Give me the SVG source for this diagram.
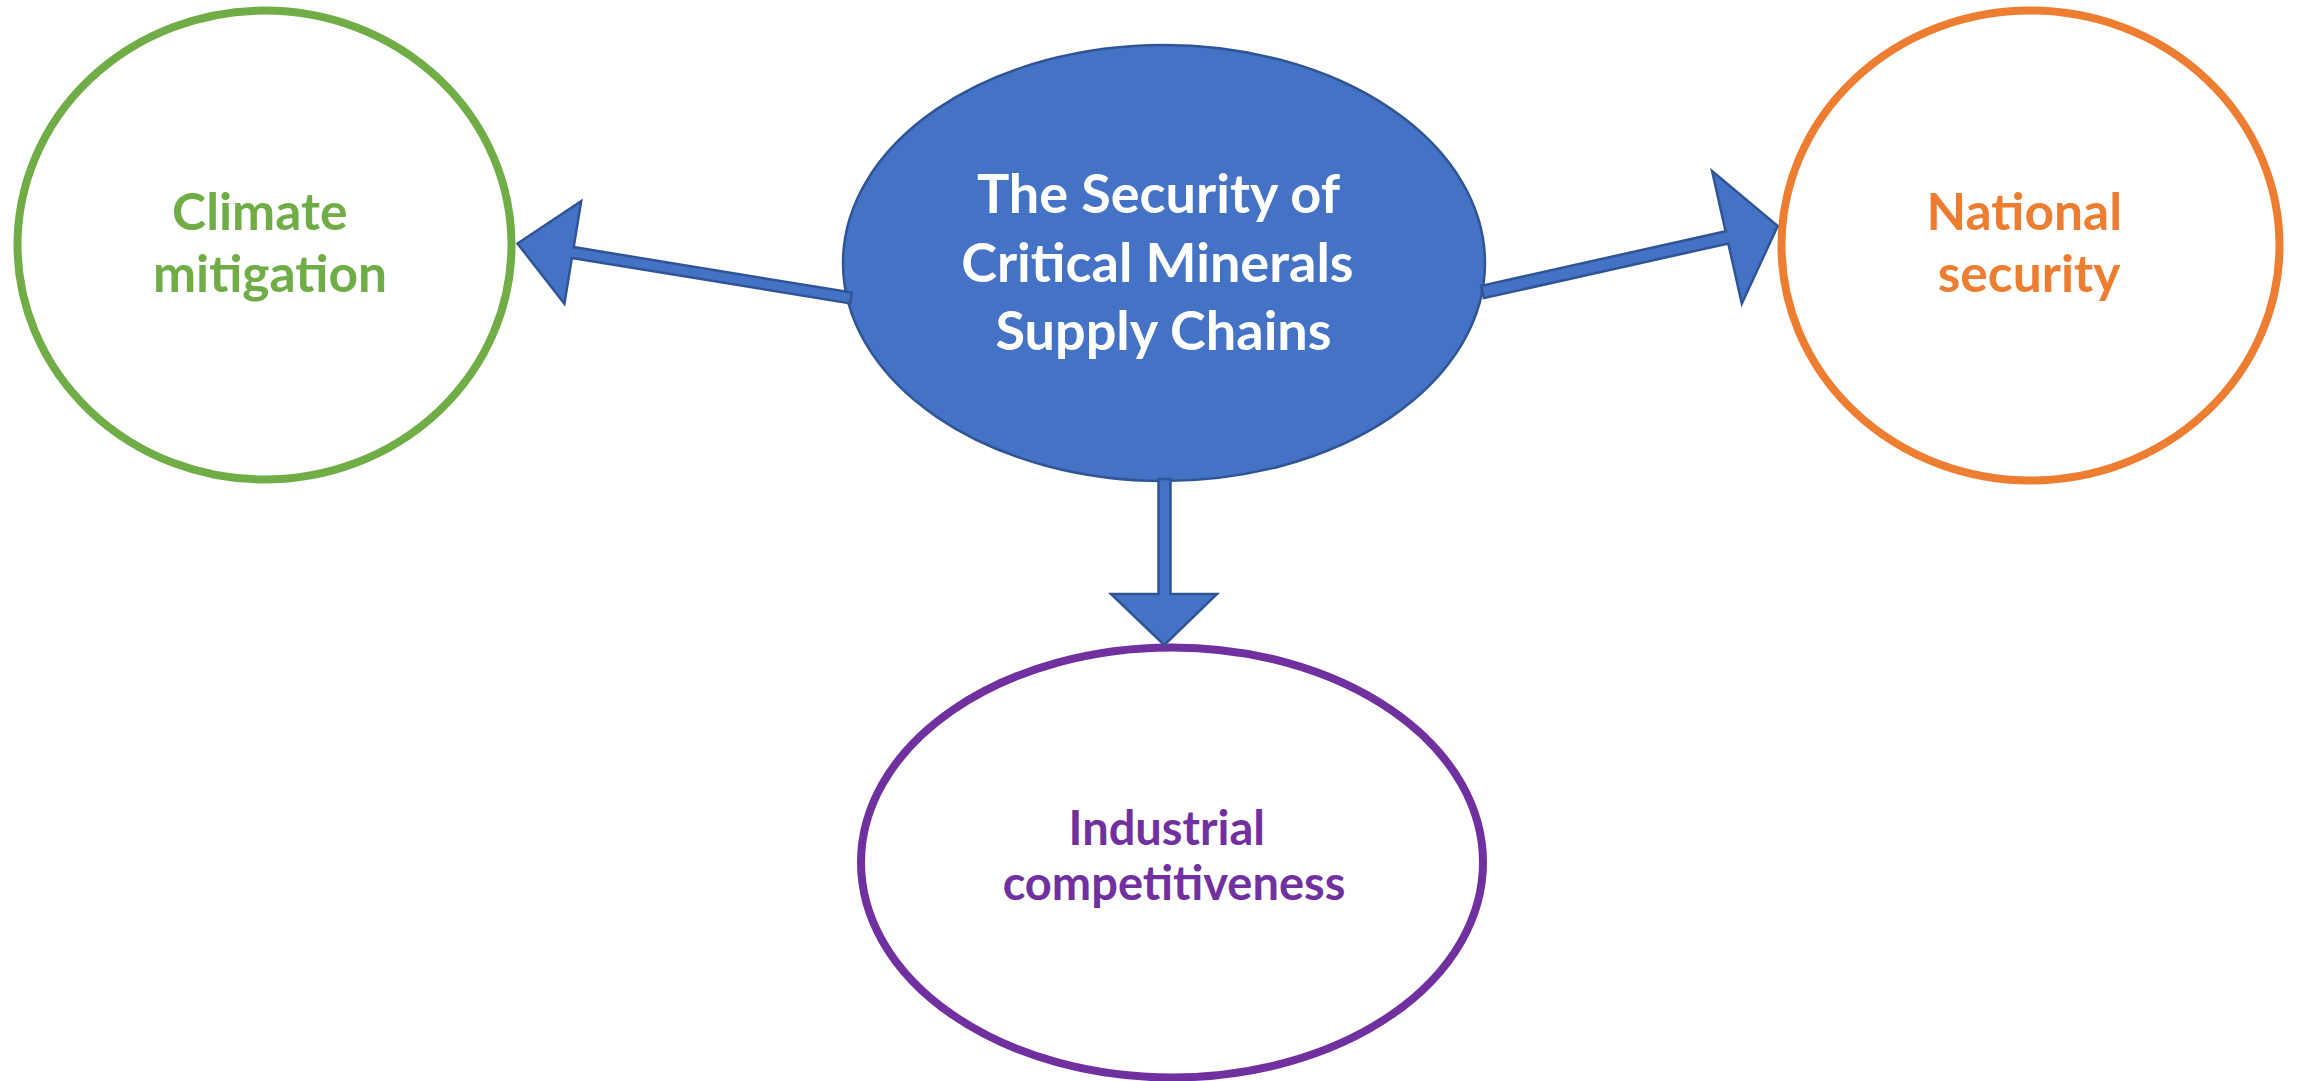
<svg xmlns="http://www.w3.org/2000/svg" width="2300" height="1081" viewBox="0 0 2300 1081">
  <style>
    .label { font-family: Lato, "Open Sans", "Liberation Sans", sans-serif; font-weight: bold; text-anchor: middle; }
    .ring { fill: #FFFFFF; stroke-width: 8; }
    .hub { fill: #4472C4; stroke: #2F5597; stroke-width: 2.5; }
    .arrow { fill: #4472C4; stroke: #2F5597; stroke-width: 2.5; stroke-linejoin: miter; }
  </style>
  <rect x="0" y="0" width="2300" height="1081" fill="#FFFFFF"/>

  <!-- outcome: climate -->
  <g id="node-climate">
    <ellipse class="ring" cx="264.5" cy="245" rx="247" ry="234.5" stroke="#70AD47"/>
    <text class="label" fill="#70AD47" font-size="51.5">
      <tspan x="266" y="230">Climate</tspan>
      <tspan x="270" y="292">mitigation</tspan>
    </text>
  </g>

  <!-- outcome: national security -->
  <g id="node-national-security">
    <ellipse class="ring" cx="2030.5" cy="245.5" rx="249" ry="235" stroke="#ED7D31"/>
    <text class="label" fill="#ED7D31" font-size="51.5">
      <tspan x="2030.5" y="230">National</tspan>
      <tspan x="2029" y="292">security</tspan>
    </text>
  </g>

  <!-- outcome: industrial competitiveness -->
  <g id="node-industrial">
    <ellipse class="ring" cx="1172" cy="862.5" rx="311" ry="215" stroke="#7030A0"/>
    <text class="label" fill="#7030A0" font-size="47">
      <tspan x="1172.5" y="845">Industrial</tspan>
      <tspan x="1174" y="900">competitiveness</tspan>
    </text>
  </g>

  <!-- central topic -->
  <g id="node-hub">
    <ellipse class="hub" cx="1164" cy="263" rx="321" ry="218"/>
    <text class="label" fill="#FFFFFF" font-size="54">
      <tspan x="1164.5" y="213">The Security of</tspan>
      <tspan x="1164" y="281.5">Critical Minerals</tspan>
      <tspan x="1163.5" y="350">Supply Chains</tspan>
    </text>
  </g>

  <!-- block arrows from the hub to each outcome -->
  <g id="connectors">
    <polygon class="arrow" points="517.5,243.5 581.2,201.2 573.7,247.1 851.9,292.6 850.1,303.4 571.9,257.9 564.4,303.8"/>
    <polygon class="arrow" points="1777.7,226 1712.1,171 1725.6,231.2 1481.1,285.9 1483.9,298.1 1728.3,243.5 1741.8,303.7"/>
    <polygon class="arrow" points="1164.3,645 1111,594 1158.5,594 1158.5,479 1170.5,479 1170.5,594 1217,594"/>
  </g>
</svg>
